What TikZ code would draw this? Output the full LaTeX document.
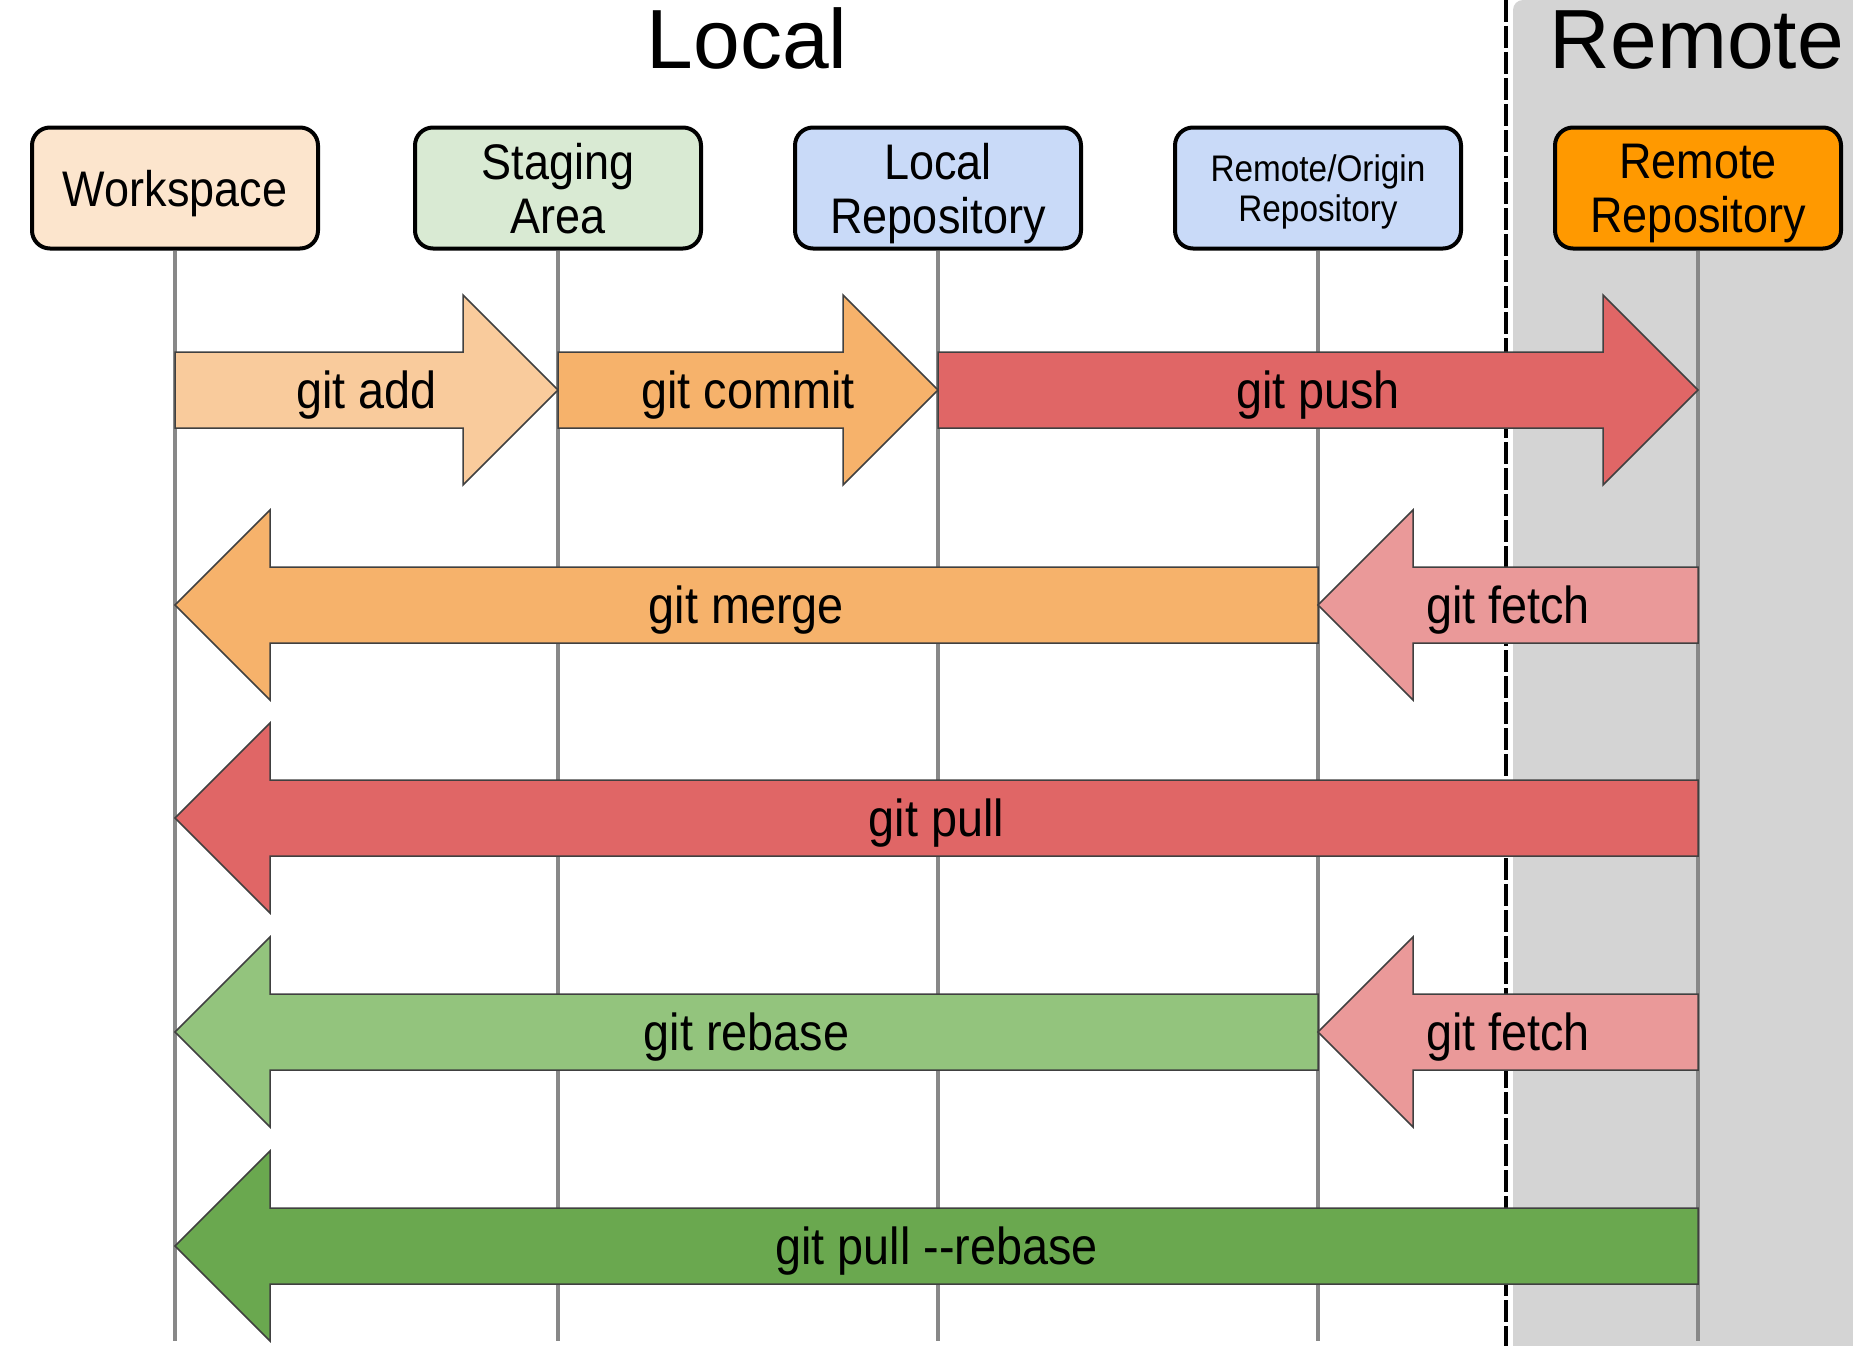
\documentclass[tikz,border=0pt]{standalone}
\usepackage{fontspec}
\setmainfont{Liberation Sans}
\newfontfamily\narrowsans[FakeStretch=0.9]{Liberation Sans}
\usetikzlibrary{calc}

\definecolor{wsfill}{HTML}{FCE5CD}
\definecolor{stagefill}{HTML}{D9EAD3}
\definecolor{repofill}{HTML}{C9DAF8}
\definecolor{remotefill}{HTML}{FF9900}
\definecolor{addfill}{HTML}{F9CB9C}
\definecolor{commitfill}{HTML}{F6B26B}
\definecolor{pushfill}{HTML}{E06666}
\definecolor{fetchfill}{HTML}{EA9999}
\definecolor{rebasefill}{HTML}{93C47D}
\definecolor{prfill}{HTML}{6AA84F}
\definecolor{zonegray}{HTML}{D4D4D4}
\definecolor{lifegray}{HTML}{888888}

\tikzset{
  lane/.style={draw, line width=4pt, rounded corners=18pt, minimum width=286pt,
    minimum height=121pt, align=center, text depth=0pt,
    font=\narrowsans\fontsize{50}{54}\selectfont},
  lifeline/.style={draw=lifegray, line width=3.5pt},
  cmdshape/.style={draw=black!75, line width=1.5pt},
  cmdtext/.style={font=\narrowsans\fontsize{52}{56}\selectfont, inner sep=0pt, text depth=0pt},
  zone/.style={font=\fontsize{84}{90}\selectfont, anchor=base, inner sep=0pt},
}

% block arrow between two lifelines: name, tail, tip, row, colour, text
\newcommand{\cmdarrow}[6]{%
  \filldraw[cmdshape, fill=#5] let \p1=(#2 |- #4), \p2=(#3 |- #4),
      \n1={\x2>\x1 ? -95pt : 95pt} in
    (\x1,\y1+38pt) -- (\x2+\n1,\y1+38pt) -- (\x2+\n1,\y1+95pt) -- (\x2,\y1)
    -- (\x2+\n1,\y1-95pt) -- (\x2+\n1,\y1-38pt) -- (\x1,\y1-38pt) -- cycle;
  \node[cmdtext] (#1) at ($(#2 |- #4)!0.5!(#3 |- #4)$) {#6};}

\begin{document}
\begin{tikzpicture}[x=1pt, y=-1pt]
  \useasboundingbox (0,0) rectangle (1853,1346);

  % remote side
  \fill[zonegray] (1853,1346) -- (1513,1346) [rounded corners=10pt] -- (1513,0)
    [sharp corners] -- (1853,0) -- cycle;
  \draw[line width=4.5pt, dash pattern=on 22pt off 4pt] (1506,0) -- (1506,1346);
  \node[zone] (localzone) at (747,69) {Local};
  \node[zone] (remotezone) at (1697,69) {Remote};

  % lanes
  \node[lane, fill=wsfill] (ws) at (175,188) {Workspace};
  \node[lane, fill=stagefill] (stage) at (558,188) {Staging\\Area};
  \node[lane, fill=repofill] (local) at (938,188) {Local\\Repository};
  \node[lane, fill=repofill, font=\narrowsans\fontsize{37}{40}\selectfont] (origin) at (1318,188) {Remote/Origin\\Repository};
  \node[lane, fill=remotefill] (remote) at (1698,188) {Remote\\Repository};

  \coordinate (bottom) at (0,1341);
  \foreach \lane in {ws, stage, local, origin, remote}
    \draw[lifeline] (\lane.south) -- (\lane.south |- bottom);

  % rows
  \coordinate (r1) at (0,390);
  \coordinate (r2) at (0,605);
  \coordinate (r3) at (0,818);
  \coordinate (r4) at (0,1032);
  \coordinate (r5) at (0,1246);

  \cmdarrow{add}{ws}{stage}{r1}{addfill}{git add}
  \cmdarrow{commit}{stage}{local}{r1}{commitfill}{git commit}
  \cmdarrow{push}{local}{remote}{r1}{pushfill}{git push}
  \cmdarrow{merge}{origin}{ws}{r2}{commitfill}{git merge}
  \cmdarrow{fetchA}{remote}{origin}{r2}{fetchfill}{git fetch}
  \cmdarrow{pull}{remote}{ws}{r3}{pushfill}{git pull}
  \cmdarrow{rebase}{origin}{ws}{r4}{rebasefill}{git rebase}
  \cmdarrow{fetchB}{remote}{origin}{r4}{fetchfill}{git fetch}
  \cmdarrow{pullrebase}{remote}{ws}{r5}{prfill}{git pull --rebase}
\end{tikzpicture}
\end{document}
